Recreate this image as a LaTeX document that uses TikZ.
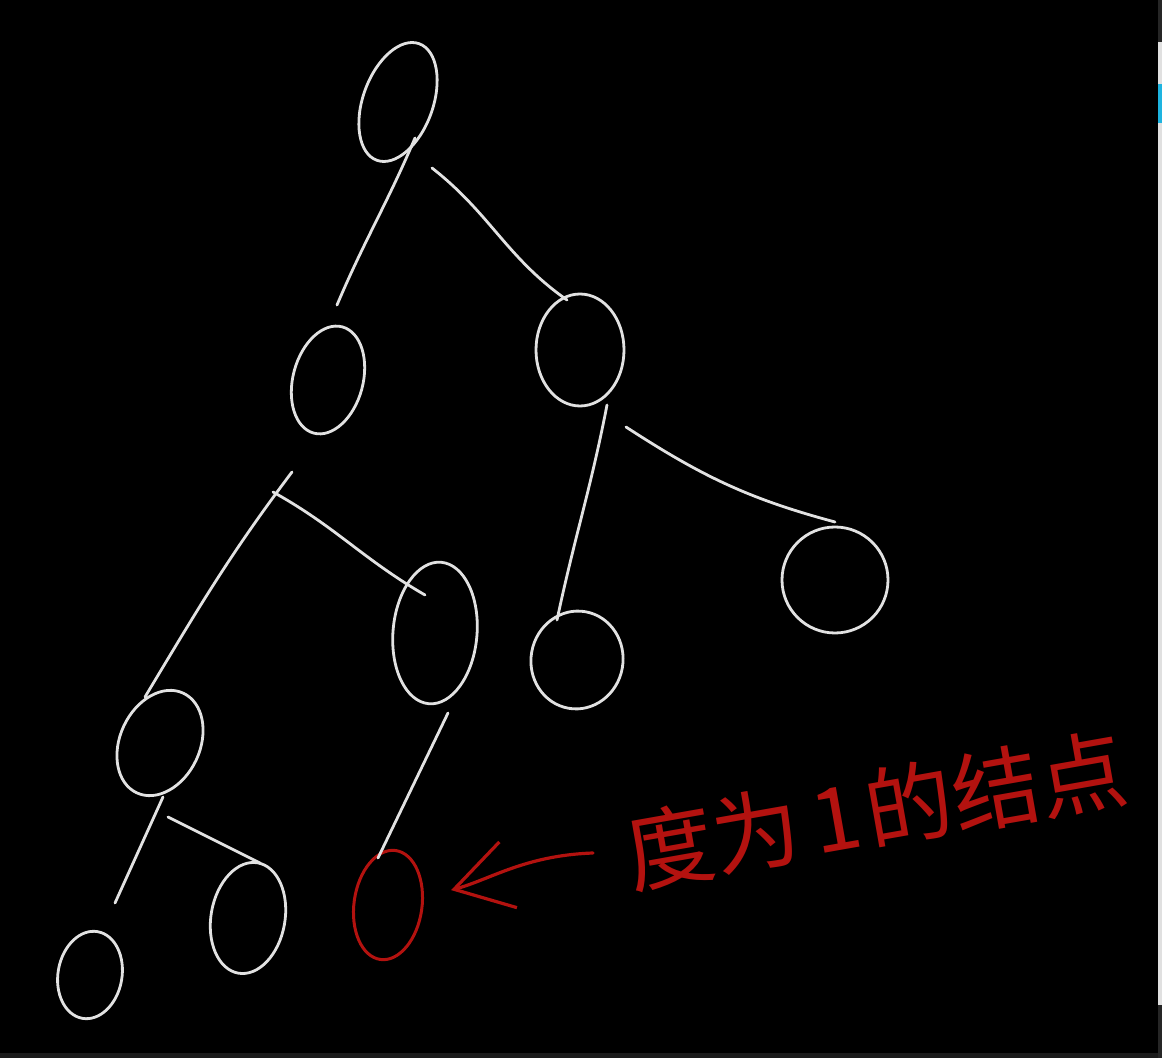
\documentclass[tikz,border=0pt]{standalone}
\usepackage{fontspec}
\newfontfamily\cjk{Noto Sans CJK SC}
\usetikzlibrary{shapes.geometric,arrows.meta}
\definecolor{chalk}{HTML}{E2E2E2}
\definecolor{ink}{HTML}{B3120F}
\definecolor{uiblue}{HTML}{1EB4E0}
\definecolor{uigray}{HTML}{E0E0E0}
\definecolor{uidark}{HTML}{262626}
\begin{document}
\begin{tikzpicture}[x=0.5pt,y=0.5pt,
  tn/.style={ellipse,draw=chalk,line width=1.4pt,inner sep=0pt},
  rn/.style={ellipse,draw=ink,line width=1.5pt,inner sep=0pt},
  edge/.style={draw=chalk,line width=1.4pt,line cap=round},
  redarrow/.style={draw=ink,line width=1.6pt,line cap=round,
    -{Straight Barb[length=28pt,width=34pt,line width=1.6pt]}},
  lbltext/.style={text=ink,inner sep=0pt,font=\cjk\fontsize{44}{44}\selectfont}
]
\fill[black] (0,0) rectangle (1162,-1058);
\useasboundingbox (0,0) rectangle (1162,-1058);
% screen UI strip
\fill[uigray] (1158,0) rectangle (1162,-1005);
\fill[uidark] (1158,0) rectangle (1162,-42);
\fill[uiblue] (1158,-84) rectangle (1162,-123);
\fill[uidark] (1158,-1005) rectangle (1162,-1058);
\fill[uidark!70!black] (0,-1053) rectangle (1158,-1058);

% tree nodes
\node[tn,minimum width=35pt,minimum height=62pt,rotate=-20] (root) at (398,-102) {};
\node[tn,minimum width=35pt,minimum height=55pt,rotate=-15] (L) at (328,-380) {};
\node[tn,minimum width=44pt,minimum height=56pt] (R) at (580,-350) {};
\node[tn,minimum width=40pt,minimum height=55pt,rotate=-25] (LL) at (160,-743) {};
\node[tn,minimum width=42pt,minimum height=71pt,rotate=-5] (LR) at (435,-633) {};
\node[tn,minimum width=46pt,minimum height=49pt,rotate=-10] (RL) at (577,-660) {};
\node[tn,minimum width=53pt,minimum height=53pt] (RR) at (835,-580) {};
\node[tn,minimum width=32pt,minimum height=44pt,rotate=-10] (LLL) at (90,-975) {};
\node[tn,minimum width=37pt,minimum height=56pt,rotate=-10] (LLR) at (248,-918) {};
\node[rn,minimum width=34pt,minimum height=55pt,rotate=-8] (LRL) at (388,-905) {};

% edges (hand-drawn ends offset from the node centres)
\draw[edge] ([shift={(17,-36)}]root.center) to[out=-113,in=67] ([shift={(9,75)}]L.center);
\draw[edge] ([shift={(34,-66)}]root.center) to[out=-38,in=145] ([shift={(-13,50)}]R.center);
\draw[edge] ([shift={(-36,-92)}]L.center) to[out=-127,in=59] ([shift={(-15,46)}]LL.center);
\draw[edge] ([shift={(-55,-112)}]L.center) to[out=-29,in=150] ([shift={(-10,38)}]LR.center);
\draw[edge] ([shift={(27,-55)}]R.center) to[out=-101,in=78] ([shift={(-20,40)}]RL.center);
\draw[edge] ([shift={(46,-77)}]R.center) to[out=-33,in=165] ([shift={(0,58)}]RR.center);
\draw[edge] ([shift={(3,-54)}]LL.center) -- ([shift={(25,72)}]LLL.center);
\draw[edge] ([shift={(8,-74)}]LL.center) -- ([shift={(12,55)}]LLR.center);
\draw[edge] ([shift={(13,-80)}]LR.center) -- ([shift={(-10,47)}]LRL.center);

% label and arrow
\node[lbltext,rotate=10] (lbl) at (876,-810) {度为\hspace{6pt}1\hspace{3pt}的结点};
\coordinate (arrs) at (593,-853);
\draw[redarrow,shorten >=14pt] (arrs) to[out=182,in=15] (LRL.20);
\end{tikzpicture}
\end{document}
